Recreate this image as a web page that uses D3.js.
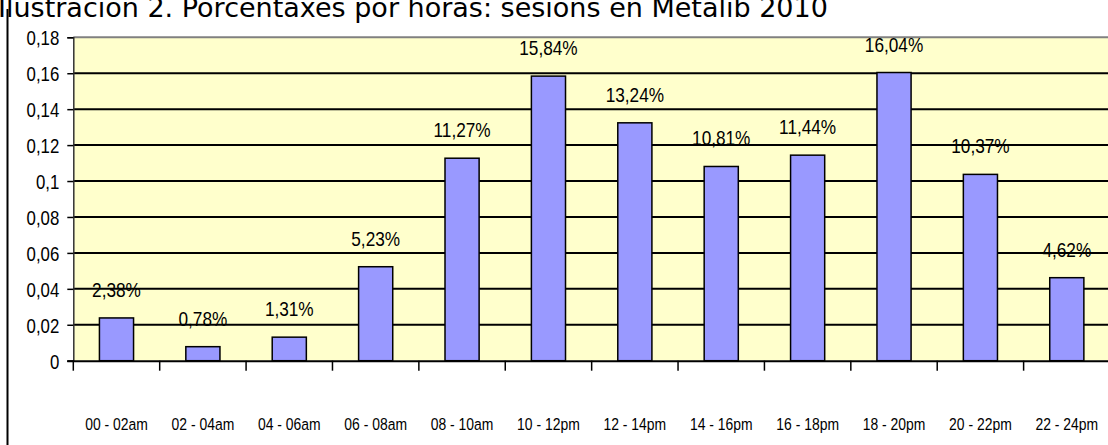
<!DOCTYPE html>
<html>
<head>
  <meta charset="utf-8">
  <script src="https://d3js.org/d3.v7.min.js"></script>
  <style>
    body { margin: 0; background: #fff; }
    .title { font: 27px "DejaVu Sans", Verdana, sans-serif; fill: #000; }
    .tick-label { font: 20.5px "Liberation Sans", Arial, sans-serif; fill: #000; }
    .cat-label { font: 17px "Liberation Sans", Arial, sans-serif; fill: #000; text-anchor: middle; }
    .pct-label { font: 21px "Liberation Sans", Arial, sans-serif; fill: #000; text-anchor: middle; }
  </style>
</head>
<body>
  <svg width="1108" height="445"></svg>
  <script>
    var categories = ["00 - 02am", "02 - 04am", "04 - 06am", "06 - 08am", "08 - 10am", "10 - 12pm",
                      "12 - 14pm", "14 - 16pm", "16 - 18pm", "18 - 20pm", "20 - 22pm", "22 - 24pm"];
    var shares = [0.0238, 0.0078, 0.0131, 0.0523, 0.1127, 0.1584,
                  0.1324, 0.1081, 0.1144, 0.1604, 0.1037, 0.0462];
    var yTicks = [0, 0.02, 0.04, 0.06, 0.08, 0.1, 0.12, 0.14, 0.16, 0.18];
    var title = "Ilustración 2. Porcentaxes por horas: sesións en Metalib 2010";

    var svg = d3.select("svg"),
        plot = {left: 73.3, right: 1110, top: 37.3, bottom: 360.7},
        narrow = 0.82; // fake Arial Narrow by squeezing Liberation Sans

    var data = categories.map((c, i) => ({cat: c, value: shares[i]}));

    var x = d3.scaleBand().domain(categories).range([plot.left, plot.right]).padding(0);
    var y = d3.scaleLinear().domain([0, 0.18]).range([plot.bottom, plot.top]);

    var comma = v => String(v).replace(".", ",");
    var pct = v => d3.format(".2f")(v * 100).replace(".", ",") + "%";
    var squeeze = (px, py) => "translate(" + px + "," + py + ") scale(" + narrow + ",1)";

    // title (top is clipped in the original)
    svg.append("text")
      .attr("class", "title")
      .attr("x", -2)
      .attr("y", 17)
      .text(title);

    // left frame line
    svg.append("line")
      .attr("x1", 7.5).attr("x2", 7.5)
      .attr("y1", 9).attr("y2", 445)
      .attr("stroke", "#000").attr("stroke-width", 2);

    // plot background
    svg.append("rect")
      .attr("x", plot.left).attr("y", plot.top)
      .attr("width", plot.right - plot.left)
      .attr("height", plot.bottom - plot.top)
      .attr("fill", "#FFFFCC");

    // gridlines
    svg.append("g")
      .selectAll("line")
      .data(yTicks.filter(d => d > 0))
      .join("line")
        .attr("x1", plot.left).attr("x2", plot.right)
        .attr("y1", d => y(d)).attr("y2", d => y(d))
        .attr("stroke", d => d === 0.18 ? "#808080" : "#000")
        .attr("stroke-width", 2);

    // y axis
    var yAxis = svg.append("g")
      .attr("transform", "translate(" + plot.left + ",0)")
      .call(d3.axisLeft(y).tickValues(yTicks).tickSize(6).tickPadding(8).tickFormat(comma));
    yAxis.select(".domain").attr("stroke", "#333").attr("stroke-width", 1.5);
    yAxis.selectAll(".tick line").attr("stroke", "#000").attr("stroke-width", 1.5);
    yAxis.selectAll(".tick text")
      .attr("class", "tick-label")
      .attr("x", 0).attr("dy", "0.36em")
      .attr("transform", squeeze(-14, 0));

    // bars
    var bw = x.bandwidth() * 0.395;
    svg.append("g")
      .selectAll("rect")
      .data(data)
      .join("rect")
        .attr("x", d => x(d.cat) + (x.bandwidth() - bw) / 2)
        .attr("y", d => y(d.value))
        .attr("width", bw)
        .attr("height", d => y(0) - y(d.value))
        .attr("fill", "#9999FF")
        .attr("stroke", "#000")
        .attr("stroke-width", 1.5);

    // x axis
    svg.append("line")
      .attr("x1", plot.left - 6).attr("x2", plot.right)
      .attr("y1", y(0) + 0.5).attr("y2", y(0) + 0.5)
      .attr("stroke", "#000").attr("stroke-width", 2);
    svg.append("g")
      .selectAll("line")
      .data(categories)
      .join("line")
        .attr("x1", d => x(d)).attr("x2", d => x(d))
        .attr("y1", y(0)).attr("y2", y(0) + 10)
        .attr("stroke", "#000").attr("stroke-width", 1.5);

    svg.append("g")
      .selectAll("text")
      .data(categories)
      .join("text")
        .attr("class", "cat-label")
        .attr("transform", d => squeeze(x(d) + x.bandwidth() / 2, 430))
        .text(d => d);

    // value labels
    svg.append("g")
      .selectAll("text")
      .data(data)
      .join("text")
        .attr("class", "pct-label")
        .attr("transform", d => squeeze(x(d.cat) + x.bandwidth() / 2, y(d.value) - 21))
        .text(d => pct(d.value));
  </script>
</body>
</html>
